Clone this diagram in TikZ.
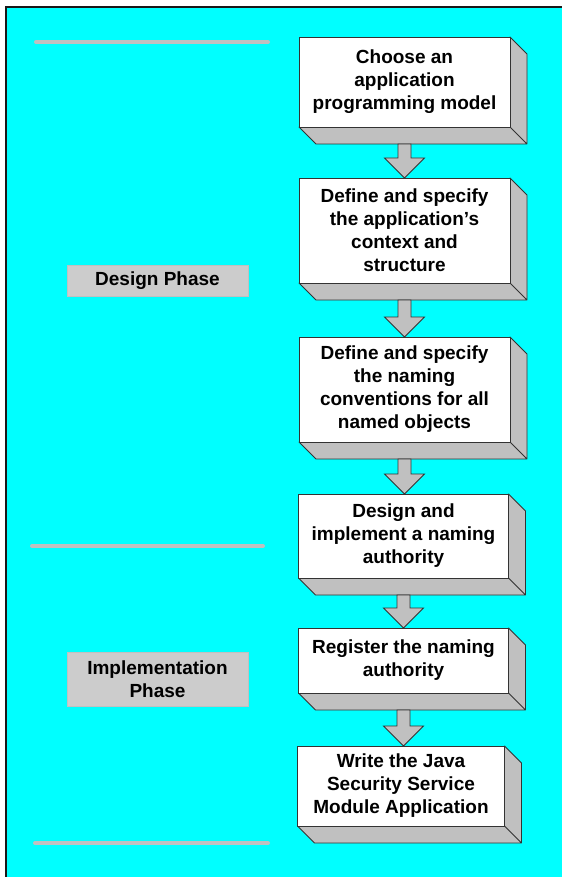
\documentclass[tikz,border=0pt]{standalone}
\usepackage{fontspec}
\setmainfont{Liberation Sans}
\usepackage{tikz}
\usetikzlibrary{calc,positioning}
\definecolor{panelcyan}{HTML}{00FFFF}
\definecolor{sidegray}{HTML}{C0C0C0}
\definecolor{phasegray}{HTML}{CCCCCC}
\definecolor{edgedark}{HTML}{333333}
\newcommand{\stepfont}{\fontsize{19pt}{23pt}\selectfont\bfseries}
\tikzset{
	slab depth/.store in=\slabdepth,
	slab depth=17pt,
	slab side/.style={draw=edgedark,fill=sidegray,line width=.8pt,line join=round},
	slab/.style={
		draw=edgedark,fill=white,line width=.8pt,
		minimum width=211pt,inner sep=2pt,outer sep=0pt,
		font=\stepfont,align=center,
		prefix after command={\pgfextra{\let\fixname\tikzlastnode}},
		append after command={\pgfextra{\draw[slab side]
			(\fixname.north east) -- ++(\slabdepth,-\slabdepth)
			-- ($(\fixname.south east)+(\slabdepth,-\slabdepth)$) -- (\fixname.south east) -- cycle
			(\fixname.south west) -- (\fixname.south east) -- ++(\slabdepth,-\slabdepth)
			-- ($(\fixname.south west)+(\slabdepth,-\slabdepth)$) -- cycle;}}
	},
	phase/.style={fill=phasegray,draw=sidegray,line width=.8pt,minimum width=181pt,
		inner sep=2pt,font=\stepfont,align=center},
	divider/.style={draw=sidegray,line width=4pt,line cap=round},
	flow arrow/.style={draw=edgedark,fill=sidegray,line width=.8pt,line join=miter}
}
% hollow arrow from the bottom of one slab to the top of the next
\newcommand{\stepdown}[2]{%
	\draw[flow arrow] let \p1=($(#1.south)+(0,-\slabdepth)$), \p2=(#2.north) in
		(\x1-6.5pt,\y1) -- (\x1+6.5pt,\y1) -- (\x1+6.5pt,\y2+20pt) -- (\x1+20pt,\y2+20pt)
		-- (\x1,\y2) -- (\x1-20pt,\y2+20pt) -- (\x1-6.5pt,\y2+20pt) -- cycle;}
\begin{document}
\begin{tikzpicture}[x=1pt,y=1pt]
   \useasboundingbox (0,0) rectangle (562,-877);
   \fill[white] (0,0) rectangle (562,-877);
   \fill[panelcyan] (6,-7) rectangle (562,-877);
   \draw[line width=2pt,black!90] (6,-877) -- (6,-7) -- (562,-7);
   % dividers between the phases
   \coordinate (d1a) at (36,-42);  \coordinate (d1b) at (268,-42);
   \coordinate (d2a) at (32,-546); \coordinate (d2b) at (263,-546);
   \coordinate (d3a) at (35,-843); \coordinate (d3b) at (268,-843);
   \draw[divider] (d1a) -- (d1b);
   \draw[divider] (d2a) -- (d2b);
   \draw[divider] (d3a) -- (d3b);
   \node[phase,minimum height=31pt] (design) at (157.5,-280.5) {Design Phase};
   \node[phase,minimum height=54pt] (impl) at (157.5,-679) {Implementation\\Phase};
   % the steps
   \node[slab,minimum height=90pt] (s1) at (404.5,-82) {Choose an\\application\\programming model};
   \node[slab,minimum height=105pt,below=51pt of s1] (s2) {Define and specify\\the application’s\\context and\\structure};
   \node[slab,minimum height=105pt,below=54pt of s2] (s3) {Define and specify\\the naming\\conventions for all\\named objects};
   \node[slab,minimum height=84pt,minimum width=210pt,below=52pt of s3,xshift=-1pt] (s4) {Design and\\implement a naming\\authority};
   \node[slab,minimum height=65pt,minimum width=210pt,below=50pt of s4] (s5) {Register the naming\\authority};
   \node[slab,minimum height=80pt,minimum width=207pt,below=53pt of s5,xshift=-2.5pt] (s6) {Write the Java\\Security Service\\Module Application};
   \stepdown{s1}{s2}
   \stepdown{s2}{s3}
   \stepdown{s3}{s4}
   \stepdown{s4}{s5}
   \stepdown{s5}{s6}
\end{tikzpicture}
\end{document}
